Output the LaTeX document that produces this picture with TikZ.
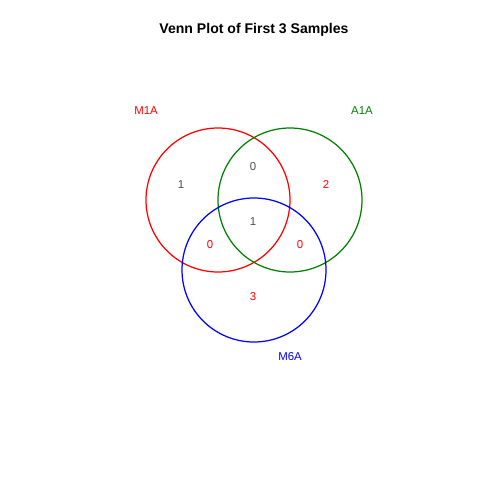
\documentclass[tikz,border=0pt]{standalone}
\usepackage{fontspec}
\setmainfont{Liberation Sans}
\tikzset{
  count/.style={font=\fontsize{6.5}{7}\selectfont},
  setname/.style={font=\fontsize{6.5}{7}\selectfont},
}
\begin{document}
\begin{tikzpicture}[x=0.02cm, y=-0.02cm, line width=0.7pt]
  \useasboundingbox (0,0) rectangle (480,480);
  \node[font=\bfseries\fontsize{8}{9}\selectfont] (title) at (254,30) {Venn Plot of First 3 Samples};
  \draw[red] (218,200) circle (72);
  \draw[green!50!black] (290,200) circle (72);
  \draw[blue] (254,270) circle (72);
  \node[setname, red] (m1a) at (146,111) {M1A};
  \node[setname, green!50!black] (a1a) at (362,111) {A1A};
  \node[setname, blue] (m6a) at (290,357) {M6A};
  \node[count, black!70] (n1) at (181,185) {1};
  \node[count, black!70] (n12) at (253,167) {0};
  \node[count, red] (n2) at (326,185) {2};
  \node[count, black!70] (n123) at (253,222) {1};
  \node[count, red] (n13) at (210,245) {0};
  \node[count, red] (n23) at (300,245) {0};
  \node[count, red] (n3) at (253,297) {3};
\end{tikzpicture}
\end{document}
